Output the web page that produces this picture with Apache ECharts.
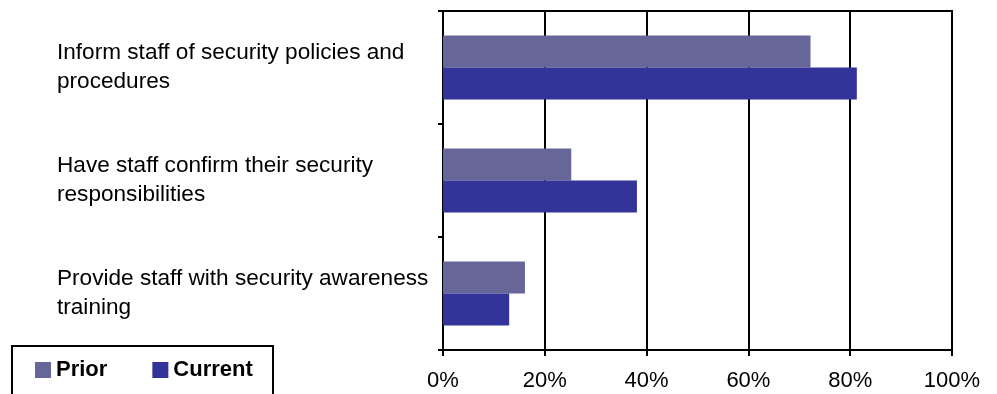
<!DOCTYPE html>
<html>
<head>
<meta charset="utf-8">
<script src="https://cdn.jsdelivr.net/npm/echarts@6/dist/echarts.min.js"></script>
<style>
html,body{margin:0;padding:0;background:#fff;}
#chart{width:997px;height:394px;}
</style>
</head>
<body>
<div id="chart"></div>
<script>
var categories = [
  "Inform staff of security policies and procedures",
  "Have staff confirm their security responsibilities",
  "Provide staff with security awareness training"
];
var seriesNames = ["Prior", "Current"];
var priorValues = [72.2, 25.2, 16.1];
var currentValues = [81.3, 38.1, 13.0];
var tickValues = [0, 20, 40, 60, 80, 100];

var font = "Liberation Sans, Arial, sans-serif";
var chart = echarts.init(document.getElementById('chart'), null, {renderer: 'canvas'});
chart.setOption({
  backgroundColor: '#ffffff',
  animation: false,
  grid: {left: 443, right: 45, top: 11, bottom: 44, show: true, borderColor: '#000', borderWidth: 2, backgroundColor: 'transparent'},
  xAxis: {
    type: 'value', min: tickValues[0], max: tickValues[tickValues.length - 1], interval: 20,
    axisLine: {show: true, lineStyle: {color: '#000', width: 2}},
    axisTick: {show: true, length: 6, lineStyle: {color: '#000', width: 2}},
    splitLine: {show: true, lineStyle: {color: '#000', width: 2}},
    axisLabel: {formatter: '{value}%', color: '#000', fontSize: 22, fontFamily: font, margin: 20}
  },
  yAxis: {
    type: 'category', data: categories, inverse: true,
    axisLine: {show: true, lineStyle: {color: '#000', width: 2}},
    axisTick: {show: true, length: 5, lineStyle: {color: '#000', width: 2}},
    splitLine: {show: false},
    axisLabel: {
      color: '#000', fontSize: 22.6, fontFamily: font, align: 'left', margin: 386,
      width: 380, overflow: 'break', lineHeight: 29
    }
  },
  legend: {
    data: seriesNames, left: 35, top: 359, padding: 0, itemGap: 45,
    itemWidth: 16, itemHeight: 16, icon: 'rect',
    textStyle: {color: '#000', fontSize: 22, fontWeight: 'bold', fontFamily: font}
  },
  graphic: [{
    type: 'rect', shape: {x: 12, y: 346, width: 261, height: 60},
    style: {stroke: '#000', lineWidth: 2, fill: 'none'}, z: 10
  }],
  series: [
    {name: seriesNames[0], type: 'bar', data: priorValues, barWidth: 32, barGap: '0%', itemStyle: {color: '#666699'}},
    {name: seriesNames[1], type: 'bar', data: currentValues, barWidth: 32, barGap: '0%', itemStyle: {color: '#333399'}}
  ]
});
</script>
</body>
</html>
